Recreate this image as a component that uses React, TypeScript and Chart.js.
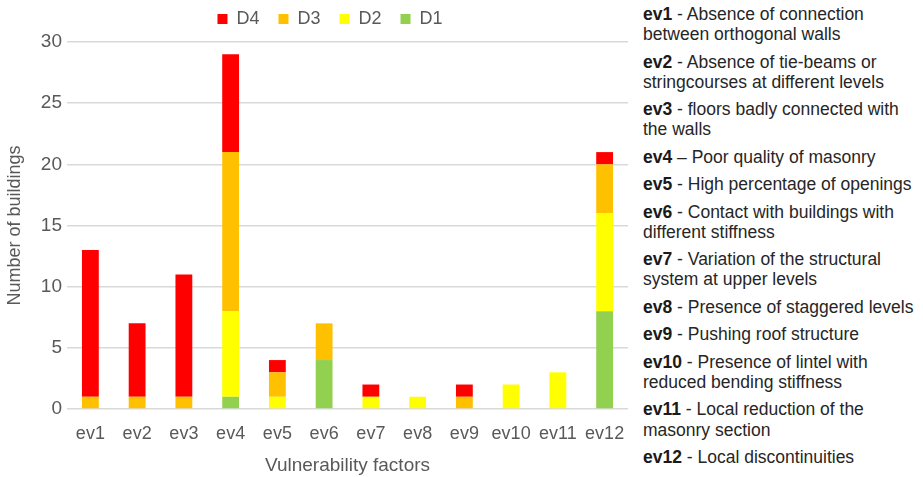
import React, { useEffect, useRef } from "react";
import { Chart, registerables } from "chart.js";

Chart.register(...registerables);

const categories = ["ev1", "ev2", "ev3", "ev4", "ev5", "ev6", "ev7", "ev8", "ev9", "ev10", "ev11", "ev12"];
const d1Values = [0, 0, 0, 1, 0, 4, 0, 0, 0, 0, 0, 8];
const d2Values = [0, 0, 0, 7, 1, 0, 1, 1, 0, 2, 3, 8];
const d3Values = [1, 1, 1, 13, 2, 3, 0, 0, 1, 0, 0, 4];
const d4Values = [12, 6, 10, 8, 1, 0, 1, 0, 1, 0, 0, 1];
const seriesNames = ["D1", "D2", "D3", "D4"];
const seriesColors = ["#92D050", "#FFFF00", "#FFC000", "#FF0000"];
const yMin = 0;
const yMax = 30;
const yStep = 5;
const xTitle = "Vulnerability factors";
const yTitle = "Number of buildings";

const descCodes = ["ev1", "ev2", "ev3", "ev4", "ev5", "ev6", "ev7", "ev8", "ev9", "ev10", "ev11", "ev12"];
const descTexts = [
  ["- Absence of connection", "between orthogonal walls"],
  ["- Absence of tie-beams or", "stringcourses at different levels"],
  ["- floors badly connected with", "the walls"],
  ["\u2013 Poor quality of masonry"],
  ["- High percentage of openings"],
  ["- Contact with buildings with", "different stiffness"],
  ["- Variation of the structural", "system at upper levels"],
  ["- Presence of staggered levels"],
  ["- Pushing roof structure"],
  ["- Presence of lintel with", "reduced bending stiffness"],
  ["- Local reduction of the", "masonry section"],
  ["- Local discontinuities"],
];

const FONT = "'Liberation Sans', Arial, sans-serif";
const GRAY = "#595959";

const legendShift = {
  id: "legendShift",
  afterLayout(chart: any) {
    const l = chart.legend;
    if (!l) return;
    l.left += 16;
    l.right += 16;
    l.top -= 4;
    l.bottom -= 4;
  },
};

function ChartCanvas() {
  const ref = useRef<HTMLCanvasElement | null>(null);
  useEffect(() => {
    if (!ref.current) return;
    const values = [d1Values, d2Values, d3Values, d4Values];
    const chart = new Chart(ref.current, {
      type: "bar",
      data: {
        labels: categories,
        datasets: seriesNames.map((name, i) => ({
          label: name,
          data: values[i],
          backgroundColor: seriesColors[i],
          borderWidth: 0,
          categoryPercentage: 0.36,
          barPercentage: 1,
        })),
      },
      plugins: [legendShift],
      options: {
        animation: false,
        responsive: false,
        devicePixelRatio: 1,
        layout: { padding: { top: -5, right: 12, left: 0, bottom: 0 } },
        plugins: {
          tooltip: { enabled: false },
          legend: {
            position: "top",
            reverse: true,
            labels: {
              boxWidth: 10,
              boxHeight: 10,
              padding: 19,
              color: GRAY,
              font: { family: FONT, size: 18 },
            },
          },
        },
        scales: {
          x: {
            stacked: true,
            grid: { display: false },
            border: { display: false },
            ticks: { color: GRAY, font: { family: FONT, size: 18 }, padding: 6, maxRotation: 0, autoSkip: false },
            title: { display: true, text: xTitle, color: GRAY, font: { family: FONT, size: 19 }, padding: { top: 0, bottom: 0 } },
            afterFit: (s: any) => { s.height = 68; },
          },
          y: {
            stacked: true,
            min: yMin,
            max: yMax,
            ticks: { stepSize: yStep, color: GRAY, font: { family: FONT, size: 19 }, padding: 5 },
            grid: { color: "#D9D9D9", lineWidth: 1.5, drawTicks: false },
            border: { display: false },
            title: { display: true, text: yTitle, color: GRAY, font: { family: FONT, size: 18 }, padding: { top: 4, bottom: 4 } },
            afterFit: (s: any) => { s.width = 67; },
          },
        },
      },
    });
    return () => chart.destroy();
  }, []);
  return <canvas ref={ref} width={640} height={477} style={{ display: "block", position: "absolute", left: 0, top: 0 }} />;
}

export default function App() {
  return (
    <div style={{ position: "absolute", left: 0, top: 0, width: 923, height: 477, background: "#fff", overflow: "hidden" }}>
      <ChartCanvas />
      <div
        style={{
          position: "absolute",
          left: 643,
          top: 4,
          fontFamily: FONT,
          fontSize: 17.5,
          lineHeight: "20.1px",
          color: "#262626",
          whiteSpace: "nowrap",
        }}
      >
        {descCodes.map((code, i) => (
          <div key={code} style={{ marginBottom: 7.4 }}>
            {descTexts[i].map((line, j) => (
              <div key={j}>
                {j === 0 ? <b style={{ color: "#1a1a1a" }}>{code}</b> : null}
                {j === 0 ? " " + line : line}
              </div>
            ))}
          </div>
        ))}
      </div>
    </div>
  );
}
